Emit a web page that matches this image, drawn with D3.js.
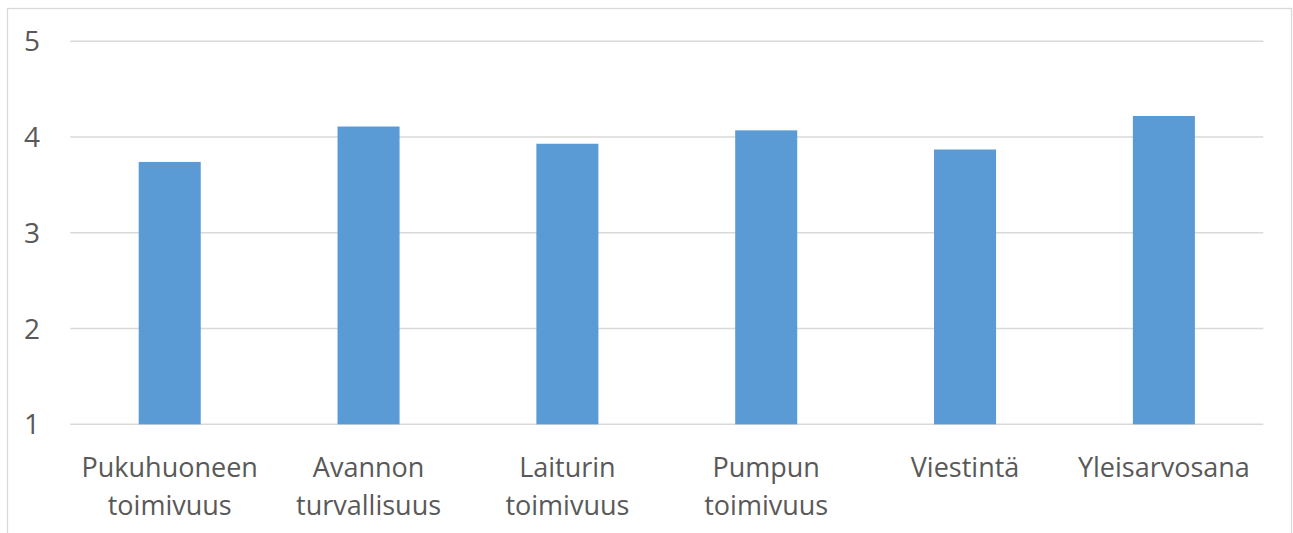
<!DOCTYPE html>
<html>
<head>
<meta charset="utf-8">
<script src="https://cdn.jsdelivr.net/npm/d3@7"></script>
<style>
  body { margin: 0; background: #fff; }
  svg text { font-family: "Open Sans", sans-serif; fill: #595959; }
</style>
</head>
<body>
<div id="chart"></div>
<script>
(function () {
  'use strict';

  // data
  var categories = ['Pukuhuoneen toimivuus', 'Avannon turvallisuus', 'Laiturin toimivuus',
    'Pumpun toimivuus', 'Viestintä', 'Yleisarvosana'];
  var values = [3.74, 4.11, 3.93, 4.07, 3.87, 4.22];
  var yTicks = [1, 2, 3, 4, 5];

  var width = 1293, height = 533;
  var left = 70.3, right = 1263.3, top = 41.3, bottom = 424.3;

  var svg = d3.select('#chart').append('svg')
    .attr('width', width)
    .attr('height', height);

  // outer chart frame
  svg.append('rect')
    .attr('x', 7.5).attr('y', 8.5)
    .attr('width', 1284).attr('height', 560)
    .attr('fill', 'none')
    .attr('stroke', '#d9d9d9')
    .attr('stroke-width', 1.3);

  var x = d3.scaleBand()
    .domain(categories)
    .range([left, right])
    .paddingInner(0.688)
    .paddingOuter(0.344);

  var y = d3.scaleLinear()
    .domain([1, 5])
    .range([bottom, top]);

  // gridlines
  svg.append('g').selectAll('line').data(yTicks)
    .enter().append('line')
    .attr('x1', left).attr('x2', right)
    .attr('y1', function (d) { return y(d); })
    .attr('y2', function (d) { return y(d); })
    .attr('stroke', '#d9d9d9')
    .attr('stroke-width', 1.5);

  // y labels
  svg.append('g').selectAll('text').data(yTicks)
    .enter().append('text')
    .attr('x', 40)
    .attr('y', function (d) { return y(d); })
    .attr('dy', '0.36em')
    .attr('text-anchor', 'end')
    .style('font-size', '28px')
    .text(function (d) { return d; });

  // bars
  svg.append('g').selectAll('rect').data(values)
    .enter().append('rect')
    .attr('x', function (d, i) { return x(categories[i]); })
    .attr('width', x.bandwidth())
    .attr('y', function (d) { return y(d); })
    .attr('height', function (d) { return y(1) - y(d); })
    .attr('fill', '#5b9bd5');

  // category labels, wrapped on the space
  var labels = svg.append('g').selectAll('text').data(categories)
    .enter().append('text')
    .attr('text-anchor', 'middle')
    .style('font-size', '27px')
    .attr('transform', function (d) {
      return 'translate(' + (x(d) + x.bandwidth() / 2) + ',476.5)';
    });

  labels.each(function (d) {
    var words = d.split(' ');
    d3.select(this).selectAll('tspan').data(words)
      .enter().append('tspan')
      .attr('x', 0)
      .attr('y', function (w, i) { return i * 38.5; })
      .text(function (w) { return w; });
  });
})();
</script>
</body>
</html>
